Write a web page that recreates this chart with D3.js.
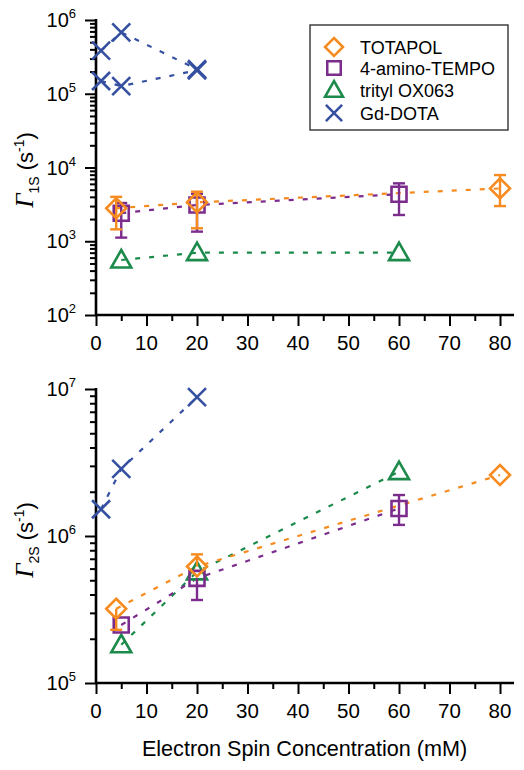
<!DOCTYPE html>
<html><head><meta charset="utf-8">
<script src="https://cdn.jsdelivr.net/npm/d3@7"></script>
<style>
body{margin:0;background:#fff;}
text{font-family:"Liberation Sans",Arial,sans-serif;}
</style></head>
<body><svg id="c" width="524" height="770"></svg>
<script>
// ---------- data ----------
const xTicks = [0,10,20,30,40,50,60,70,80];
const seriesNames = ["TOTAPOL","4-amino-TEMPO","trityl OX063","Gd-DOTA"];
const seriesColors = ["#F68B1F","#7B2C8C","#1B8A4A","#3550A0"];
const seriesSymbols = ["diamond","square","triangle","cross"];

const totapolX = [4,20,80];
const tempoX = [5,20,60];
const tritylX = [5,20,60];
const gdX = [1,5,20];

// Gamma_1S (s^-1)
const totapolG1 = [2800,3370,5200];
const totapolG1Lo = [1450,1500,3000];
const totapolG1Hi = [4000,4700,7900];
const tempoG1 = [2400,3100,4330];
const tempoG1Lo = [1120,1350,2270];
const tempoG1Hi = [3300,4400,6100];
const tritylG1 = [557,700,700];
const gdG1a = [384000,680000,215000];
const gdG1b = [149000,127000,208000];

// Gamma_2S (s^-1)
const totapolG2 = [320000,620000,2600000];
const totapolG2Lo = [230000,620000,2600000];
const totapolG2Hi = [320000,750000,2600000];
const tempoG2 = [248000,515000,1540000];
const tempoG2Lo = [248000,367000,1190000];
const tempoG2Hi = [248000,515000,1900000];
const tritylG2 = [182000,570000,2740000];
const gdG2 = [1520000,2860000,8800000];

const topYTicks = [1e2,1e3,1e4,1e5,1e6];
const botYTicks = [1e5,1e6,1e7];

// ---------- drawing ----------
const svg = d3.select("#c");
const x = d3.scaleLinear().domain([0,82.77]).range([96,514]);
const yTop = d3.scaleLog().domain([1e2,1e6]).range([315,20]);
const yBot = d3.scaleLog().domain([1e5,1e7]).range([683,389]);

function minorLog(domain){
  const out=[];
  const lo=Math.round(Math.log10(domain[0])), hi=Math.round(Math.log10(domain[1]));
  for(let e=lo;e<hi;e++) for(let m=2;m<=9;m++) out.push(m*Math.pow(10,e));
  return out;
}

function drawPanel(y, yTicks, titleSub, titleY, series){
  const g = svg.append("g");
  const [r0,r1] = y.range();
  // y axis
  const ya = g.append("g").attr("transform",`translate(${x(0)},0)`);
  ya.call(d3.axisLeft(y).tickValues(minorLog(y.domain())).tickSize(6).tickFormat(""));
  ya.append("g").call(d3.axisLeft(y).tickValues(yTicks).tickSize(11).tickFormat(""));
  ya.selectAll("path.domain").remove();
  ya.selectAll("line").attr("stroke","#000").attr("stroke-width",2);
  ya.append("line").attr("x1",0).attr("x2",0).attr("y1",r1-1).attr("y2",r0+1).attr("stroke","#000").attr("stroke-width",2.6);
  yTicks.forEach(v=>{
    const t = ya.append("text").attr("x",-20).attr("y",y(v)+7).attr("text-anchor","end").attr("font-size",20).attr("fill","#000");
    t.append("tspan").text("10");
    t.append("tspan").attr("dy",-9).attr("font-size",13).text(Math.round(Math.log10(v)));
  });
  // x axis
  const xa = g.append("g").attr("transform",`translate(0,${r0})`);
  xa.call(d3.axisBottom(x).tickValues([5,15,25,35,45,55,65,75]).tickSize(6).tickFormat(""));
  xa.append("g").call(d3.axisBottom(x).tickValues(xTicks).tickSize(11).tickFormat(""));
  xa.selectAll("path.domain").remove();
  xa.selectAll("line").attr("stroke","#000").attr("stroke-width",2);
  xa.append("line").attr("x1",x(0)-1).attr("x2",x.range()[1]).attr("y1",0).attr("y2",0).attr("stroke","#000").attr("stroke-width",2.6);
  xTicks.forEach(v=>{
    xa.append("text").attr("x",x(v)).attr("y",35).attr("text-anchor","middle").attr("font-size",20.5).attr("fill","#000").text(v);
  });
  // y title
  const tt = g.append("text").attr("transform",`translate(33,${titleY}) rotate(-90)`).attr("text-anchor","middle").attr("font-size",22).attr("fill","#000");
  tt.append("tspan").attr("font-family","'Liberation Serif','Times New Roman',serif").attr("font-style","italic").attr("font-size",25).text("Γ");
  tt.append("tspan").attr("dy",6).attr("font-size",14).text(titleSub);
  tt.append("tspan").attr("dy",-6).text(" (s");
  tt.append("tspan").attr("dy",-9).attr("font-size",14).text("-1");
  tt.append("tspan").attr("dy",9).text(")");

  // lines
  const line = d3.line().x(d=>x(d[0])).y(d=>y(d[1]));
  series.forEach(s=>{
    s.ys.forEach(ys=>{
      g.append("path").datum(s.xs.map((xv,i)=>[xv,ys[i]]))
        .attr("d",line).attr("fill","none").attr("stroke",s.color)
        .attr("stroke-width",2.2).attr("stroke-dasharray","5,9");
    });
  });
  // error bars & markers
  series.forEach(s=>{
    if(s.lo){
      s.xs.forEach((xv,i)=>{
        const cx=x(xv), yl=y(s.lo[i]), yh=y(s.hi[i]);
        if(Math.abs(yl-yh)<1) return;
        const eb=g.append("g").attr("stroke",s.color).attr("stroke-width",2.4);
        eb.append("line").attr("x1",cx).attr("x2",cx).attr("y1",yl).attr("y2",yh);
        if(s.lo[i]!==s.ys[0][i]) eb.append("line").attr("x1",cx-6).attr("x2",cx+6).attr("y1",yl).attr("y2",yl);
        if(s.hi[i]!==s.ys[0][i]) eb.append("line").attr("x1",cx-6).attr("x2",cx+6).attr("y1",yh).attr("y2",yh);
      });
    }
    s.ys.forEach(ys=>{
      s.xs.forEach((xv,i)=>{
        g.append("path").attr("d",symbolPath(s.symbol)).attr("transform",`translate(${x(xv)},${y(ys[i])})`)
          .attr("fill","none").attr("stroke",s.color).attr("stroke-width",2.6);
      });
    });
  });
}

function symbolPath(sym){
  switch(sym){
    case "diamond": return "M0,-10L10,0L0,10L-10,0Z";
    case "square": return "M-7.5,-7.5H7.5V7.5H-7.5Z";
    case "triangle": return "M0,-10L10,7.5L-10,7.5Z";
    case "cross": return "M-9,-9L9,9M-9,9L9,-9";
  }
}

drawPanel(yTop, topYTicks, "1S", 170, [
  {xs:tritylX, ys:[tritylG1], color:seriesColors[2], symbol:"triangle"},
  {xs:tempoX, ys:[tempoG1], lo:tempoG1Lo, hi:tempoG1Hi, color:seriesColors[1], symbol:"square"},
  {xs:totapolX, ys:[totapolG1], lo:totapolG1Lo, hi:totapolG1Hi, color:seriesColors[0], symbol:"diamond"},
  {xs:gdX, ys:[gdG1a,gdG1b], color:seriesColors[3], symbol:"cross"}
]);
drawPanel(yBot, botYTicks, "2S", 540, [
  {xs:tritylX, ys:[tritylG2], color:seriesColors[2], symbol:"triangle"},
  {xs:tempoX, ys:[tempoG2], lo:tempoG2Lo, hi:tempoG2Hi, color:seriesColors[1], symbol:"square"},
  {xs:totapolX, ys:[totapolG2], lo:totapolG2Lo, hi:totapolG2Hi, color:seriesColors[0], symbol:"diamond"},
  {xs:gdX, ys:[gdG2], color:seriesColors[3], symbol:"cross"}
]);

// x title
svg.append("text").attr("x",304.5).attr("y",756).attr("text-anchor","middle")
  .attr("font-size",21.6).attr("fill","#000").text("Electron Spin Concentration (mM)");

// legend
const lg = svg.append("g");
lg.append("rect").attr("x",310).attr("y",25).attr("width",198).attr("height",105)
  .attr("fill","#fff").attr("stroke","#333").attr("stroke-width",1.4);
const rowY = [47,68,90,113];
seriesNames.forEach((n,i)=>{
  lg.append("path").attr("d",symbolPath(seriesSymbols[i])).attr("transform",`translate(334,${rowY[i]}) scale(0.9)`)
    .attr("fill","none").attr("stroke",seriesColors[i]).attr("stroke-width",2.8);
  lg.append("text").attr("x",360).attr("y",rowY[i]+6.5).attr("font-size",18).attr("fill","#000").text(n);
});
</script></body></html>
